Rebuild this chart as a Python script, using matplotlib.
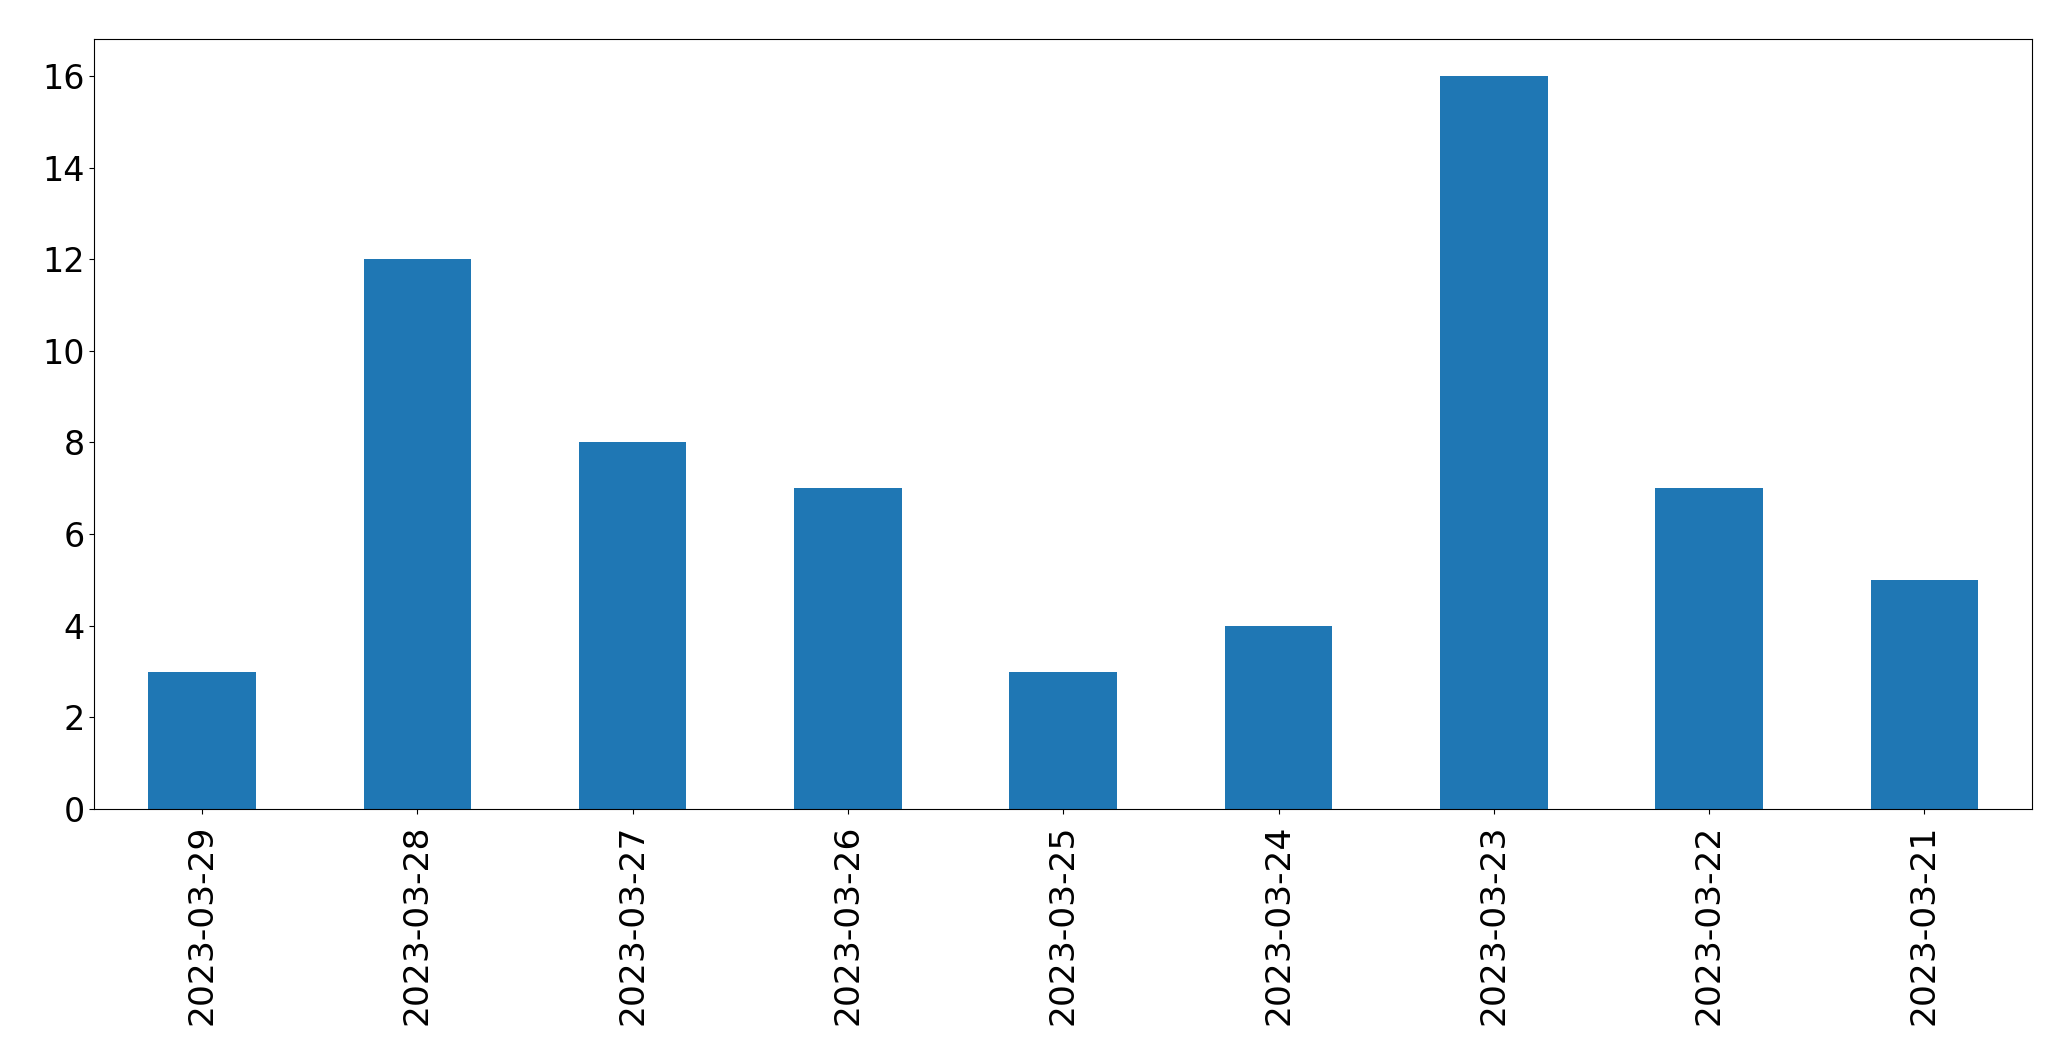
import matplotlib
matplotlib.use("Agg")
import matplotlib.pyplot as plt

dates = ["2023-03-29", "2023-03-28", "2023-03-27", "2023-03-26", "2023-03-25",
         "2023-03-24", "2023-03-23", "2023-03-22", "2023-03-21"]
counts = [3, 12, 8, 7, 3, 4, 16, 7, 5]

fig = plt.figure(figsize=(20.71, 10.61), dpi=100)
ax = fig.add_axes([0.0456, 0.2375, 0.9356, 0.7255])
x = list(range(len(dates)))
ax.bar(x, counts, width=0.5, color="#1f77b4")
ax.set_xlim(-0.5, len(dates) - 0.5)
ax.set_ylim(0, max(counts) * 1.05)
ax.set_xticks(x)
ax.set_xticklabels(dates, rotation=90)
ax.set_yticks(range(0, 17, 2))
ax.tick_params(axis="y", labelsize=24)
ax.tick_params(axis="x", labelsize=24.8, pad=7.5)
fig.savefig("out.png", dpi=100)
